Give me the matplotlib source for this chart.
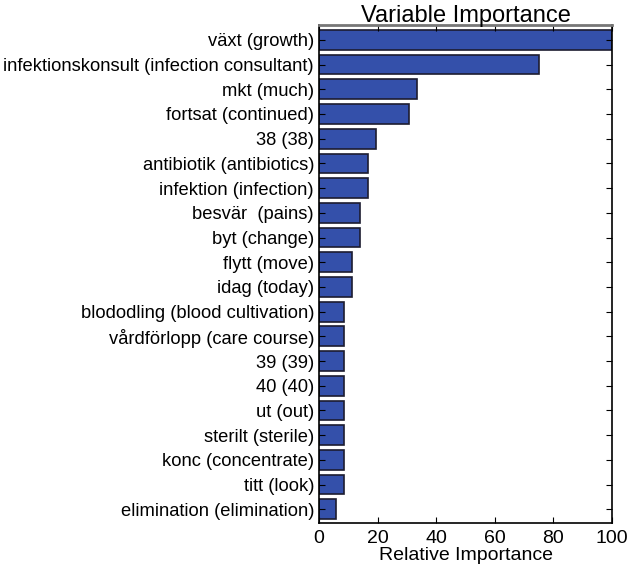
import matplotlib
matplotlib.use("Agg")
import matplotlib.pyplot as plt
import numpy as np

# termer (svenska + engelska), från viktigast till minst viktig
labels = [
    "växt (growth)",
    "infektionskonsult (infection consultant)",
    "mkt (much)",
    "fortsat (continued)",
    "38 (38)",
    "antibiotik (antibiotics)",
    "infektion (infection)",
    "besvär  (pains)",
    "byt (change)",
    "flytt (move)",
    "idag (today)",
    "blododling (blood cultivation)",
    "vårdförlopp (care course)",
    "39 (39)",
    "40 (40)",
    "ut (out)",
    "sterilt (sterile)",
    "konc (concentrate)",
    "titt (look)",
    "elimination (elimination)",
]
importance = [100, 75, 33.4, 30.6, 19.5, 16.7, 16.7, 14, 14, 11.2,
              11.2, 8.4, 8.4, 8.4, 8.4, 8.4, 8.4, 8.4, 8.4, 5.7]

plt.rcParams['font.family'] = ['Liberation Sans', 'DejaVu Sans']

fig = plt.figure(figsize=(6.31, 5.69), dpi=100)
ax = fig.add_axes([0.5055, 0.081, 0.4645, 0.875])

pos = np.arange(len(labels))[::-1]
ax.barh(pos, importance, height=0.8, align='center',
        color='#3450aa', edgecolor='#1c1c30', linewidth=1.2)

ax.set_yticks(pos)
ax.set_yticklabels(labels, fontsize=13.2)
ax.set_ylim(-0.55, len(labels) - 0.4)
ax.set_xlim(0, 100)
ax.set_xticks([0, 20, 40, 60, 80, 100])
ax.tick_params(axis='x', labelsize=14, direction='in', top=True, length=4, pad=5)
ax.tick_params(axis='y', direction='in', right=True, length=4)
ax.set_xlabel("Relative Importance", fontsize=14, labelpad=0)
ax.set_title("Variable Importance", fontsize=17, pad=2)
for s in ax.spines.values():
    s.set_linewidth(1.2)
ax.spines['top'].set_color('#777777')
ax.spines['top'].set_linewidth(2)

fig.savefig("out.png", dpi=100)
